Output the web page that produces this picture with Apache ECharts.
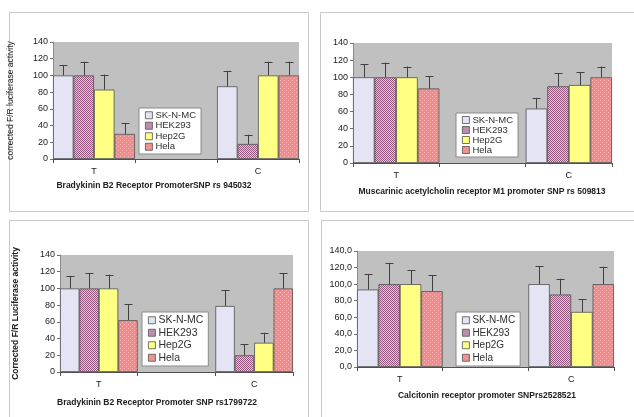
<!DOCTYPE html>
<html><head><meta charset="utf-8">
<script src="https://cdn.jsdelivr.net/npm/echarts@6/dist/echarts.min.js"></script>
<style>html,body{margin:0;padding:0;background:#fff}#c{width:634px;height:417px}</style>
</head><body><div id="c"></div>
<script>
// ---- data ----
const seriesNames = ['SK-N-MC', 'HEK293', 'Hep2G', 'Hela'];
const categories = ['T', '', 'C'];
const yTicks = [0, 20, 40, 60, 80, 100, 120, 140];

// panel 1: Bradykinin B2 Receptor PromoterSNP rs 945032  [T, C]
const p1Values = [[100, 87], [100, 18], [83, 100], [30, 100]];
const p1ErrTop = [[112.5, 105.5], [116.5, 29], [101, 116.5], [43, 116.5]];
// panel 2: Muscarinic acetylcholin receptor M1 promoter SNP rs 509813
const p2Values = [[100, 63.5], [100, 89.5], [100, 91], [87, 100]];
const p2ErrTop = [[115.5, 76], [117, 104.5], [112.5, 106], [101, 112.5]];
// panel 3: Bradykinin B2 Receptor Promoter SNP rs1799722
const p3Values = [[100, 79], [100, 20], [100, 35], [62, 100]];
const p3ErrTop = [[115, 98], [118.5, 33], [116.5, 47], [81, 118.5]];
// panel 4: Calcitonin receptor promoter SNPrs2528521
const p4Values = [[93.5, 100], [100, 87.5], [100, 66.5], [91.5, 100]];
const p4ErrTop = [[112, 122], [125, 106.5], [117, 82], [110.5, 121]];

const titles = [
  'Bradykinin B2 Receptor PromoterSNP rs 945032',
  'Muscarinic acetylcholin receptor M1 promoter SNP rs 509813',
  'Bradykinin B2 Receptor Promoter SNP rs1799722',
  'Calcitonin receptor promoter SNPrs2528521'
];
const yNames = ['corrected F/R luciferase activity', '', 'Corrected F/R Luciferase activity', ''];

// ---- styling ----
function pattern(c1, c2, type) {
  const cv = document.createElement('canvas');
  cv.width = 4; cv.height = 4;
  const g = cv.getContext('2d');
  g.fillStyle = c1; g.fillRect(0, 0, 4, 4);
  g.fillStyle = c2;
  if (type === 'checker') {
    g.fillRect(0, 0, 1, 1); g.fillRect(2, 0, 1, 1); g.fillRect(1, 1, 1, 1); g.fillRect(3, 1, 1, 1);
    g.fillRect(0, 2, 1, 1); g.fillRect(2, 2, 1, 1); g.fillRect(1, 3, 1, 1); g.fillRect(3, 3, 1, 1);
  } else {
    g.fillRect(0, 0, 1, 1); g.fillRect(2, 2, 1, 1);
  }
  return { image: cv, repeat: 'repeat' };
}
const colors = [
  '#e4e4f4',
  pattern('#e6c4dc', '#94567e', 'checker'),
  '#ffff84',
  pattern('#f28c8c', '#f8b4b4', 'dots')
];

const panels = [
  { v: p1Values, e: p1ErrTop, grid: { left: 53, top: 42, width: 246, height: 117 }, fmt: v => v,
    legend: { left: 139, top: 108, font: 9.5, lh: 10.5 }, title: [154, 186], nameGap: 38, nameBold: false, labelSize: 9 },
  { v: p2Values, e: p2ErrTop, grid: { left: 353, top: 43, width: 259, height: 120 }, fmt: v => v,
    legend: { left: 456, top: 113, font: 9.5, lh: 10 }, title: [482, 192], nameGap: 38, nameBold: false, labelSize: 9 },
  { v: p3Values, e: p3ErrTop, grid: { left: 60, top: 255, width: 233, height: 117 }, fmt: v => v,
    legend: { left: 142, top: 312, font: 10.5, lh: 12.5 }, title: [157, 403], nameGap: 40, nameBold: true, labelSize: 9 },
  { v: p4Values, e: p4ErrTop, grid: { left: 357, top: 251, width: 257, height: 116 }, fmt: v => v.toFixed(1).replace('.', ','),
    legend: { left: 456, top: 312, font: 10, lh: 12.5 }, title: [487, 396], nameGap: 40, nameBold: false, labelSize: 9 }
];

const FONT = 'Liberation Sans, Arial, sans-serif';
const grid = [], xAxis = [], yAxis = [], series = [], legend = [], graphic = [];

// panel frames
[[9, 12, 299, 199], [320, 12, 330, 199], [9, 220, 299, 210], [321, 220, 330, 210]].forEach(r => {
  graphic.push({ type: 'rect', shape: { x: r[0] + 0.5, y: r[1] + 0.5, width: r[2], height: r[3] },
    style: { fill: 'none', stroke: '#c8c8c8', lineWidth: 1 }, silent: true, z: -10 });
});

panels.forEach((p, gi) => {
  grid.push(Object.assign({ backgroundColor: '#c0c0c0', show: true, borderWidth: 0 }, p.grid));
  xAxis.push({
    type: 'category', gridIndex: gi, data: categories,
    axisLine: { lineStyle: { color: '#505050', width: 1 } },
    axisTick: { show: true, length: 4, lineStyle: { color: '#505050' } },
    axisLabel: { fontFamily: FONT, fontSize: 9, color: '#202020', margin: 8 },
    splitLine: { show: false }
  });
  yAxis.push({
    type: 'value', gridIndex: gi, min: yTicks[0], max: yTicks[yTicks.length - 1], interval: yTicks[1] - yTicks[0],
    name: yNames[gi], nameLocation: 'middle', nameGap: p.nameGap,
    nameTextStyle: { fontFamily: FONT, fontSize: 8.5, color: '#202020', fontWeight: p.nameBold ? 'bold' : 'normal' },
    axisLine: { show: true, lineStyle: { color: '#8c8c8c' } },
    axisTick: { show: true, length: 3, lineStyle: { color: '#707070' } },
    axisLabel: { fontFamily: FONT, fontSize: p.labelSize, color: '#202020', margin: 5, formatter: p.fmt },
    splitLine: { show: false }
  });
  seriesNames.forEach((name, si) => {
    series.push({
      type: 'bar', name: name, xAxisIndex: gi, yAxisIndex: gi,
      data: [p.v[si][0], '-', p.v[si][1]],
      barGap: 0, barCategoryGap: 0,
      itemStyle: { color: colors[si], borderColor: '#505050', borderWidth: 0.8 },
      emphasis: { disabled: true }, z: 2
    });
  });
  const errData = [];
  seriesNames.forEach((name, si) => {
    errData.push([0, si, p.v[si][0], p.e[si][0]]);
    errData.push([2, si, p.v[si][1], p.e[si][1]]);
  });
  series.push({
    type: 'custom', xAxisIndex: gi, yAxisIndex: gi, data: errData, z: 3, silent: true,
    renderItem: function (params, api) {
      const ci = api.value(0), si = api.value(1);
      const base = api.coord([ci, api.value(2)]);
      const top = api.coord([ci, api.value(3)]);
      const cw = api.size([1, 0])[0];
      const bw = cw / 4;
      const x = Math.round(base[0] + (si - 1.5) * bw) + 0.5;
      const cap = 4;
      const st = { stroke: '#404040', lineWidth: 1 };
      return { type: 'group', children: [
        { type: 'line', shape: { x1: x, y1: base[1], x2: x, y2: top[1] }, style: st },
        { type: 'line', shape: { x1: x - cap, y1: Math.round(top[1]) + 0.5, x2: x + cap, y2: Math.round(top[1]) + 0.5 }, style: st }
      ] };
    }
  });
  legend.push({
    orient: 'vertical', left: p.legend.left, top: p.legend.top,
    data: seriesNames, itemWidth: 7, itemHeight: 7, itemGap: 0,
    backgroundColor: '#ffffff', borderColor: '#8a8a8a', borderWidth: 1, padding: [2, 5, 2, 6],
    icon: 'rect', selectedMode: false,
    itemStyle: { borderColor: '#505050', borderWidth: 0.8 },
    textStyle: { fontFamily: FONT, fontSize: p.legend.font, color: '#303030', lineHeight: p.legend.lh, padding: [0, 0, 0, -2] }
  });
  graphic.push({
    type: 'text', left: null, x: p.title[0], y: p.title[1],
    style: { text: titles[gi], x: 0, y: 0, textAlign: 'center', textVerticalAlign: 'middle',
      font: 'bold 8.5px ' + FONT, fill: '#202020' }, silent: true
  });
});

const chart = echarts.init(document.getElementById('c'), null, { renderer: 'canvas' });
chart.setOption({ animation: false, grid, xAxis, yAxis, series, legend, graphic });
</script></body></html>
